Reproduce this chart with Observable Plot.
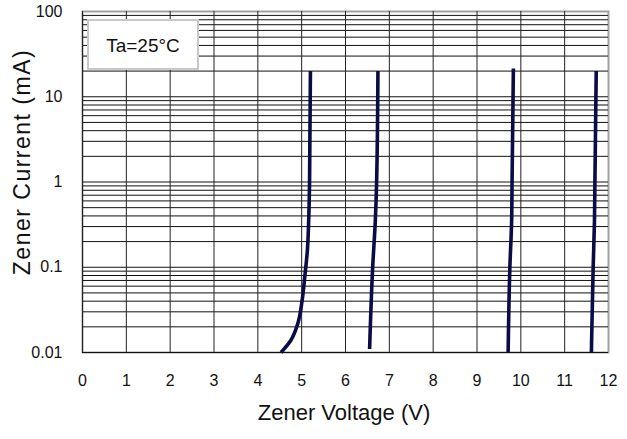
<!DOCTYPE html>
<html>
<head>
<meta charset="utf-8">
<script src="https://cdn.jsdelivr.net/npm/d3@7"></script>
<script src="https://cdn.jsdelivr.net/npm/@observablehq/plot@0.6"></script>
<style>
  html, body { margin: 0; padding: 0; background: #fff; }
  #wrap { position: relative; width: 627px; height: 439px; }
  #note {
    position: absolute; left: 87px; top: 19px; width: 108px; height: 44px;
    border: 2px solid #c8c8c8; background: #fff;
    font-family: Arial, "Liberation Sans", sans-serif; font-size: 19px; color: #111;
    display: flex; align-items: center; justify-content: center; padding-top: 3px; box-sizing: content-box;
  }
</style>
</head>
<body>
<div id="wrap"></div>
<script>
// ---- data ----
const voltageTicks = [0, 1, 2, 3, 4, 5, 6, 7, 8, 9, 10, 11, 12];
const currentTicks = [0.01, 0.1, 1, 10, 100];
const currentTickLabels = ["0.01", "0.1", "1", "10", "100"];

const curveA_V = [4.53, 4.75, 4.91, 5.01, 5.07, 5.13, 5.16, 5.18, 5.20];
const curveA_I = [0.01, 0.0138, 0.0217, 0.0407, 0.0764, 0.157, 0.35, 1, 20];

const curveB_V = [6.55, 6.62, 6.68, 6.71, 6.74];
const curveB_I = [0.011, 0.1, 0.35, 1, 20];

const curveC_V = [9.71, 9.75, 9.79, 9.80, 9.83];
const curveC_I = [0.01, 0.1, 0.35, 1, 21.4];

const curveD_V = [11.61, 11.65, 11.68, 11.69, 11.72];
const curveD_I = [0.01, 0.1, 0.35, 1, 20];

const noteText = "Ta=25°C";
const xTitle = "Zener Voltage (V)";
const yTitle = "Zener Current (mA)";

// ---- build ----
const curves = [
  [curveA_V, curveA_I], [curveB_V, curveB_I], [curveC_V, curveC_I], [curveD_V, curveD_I]
].map(([vs, is], k) => vs.map((v, j) => ({v, i: is[j], k})));
const curveData = curves.flat();

const yGrid = d3.scaleLog().domain([0.01, 100]).ticks().filter(d => d < 100);
const xGrid = voltageTicks.filter(d => d < 12);
const labelOf = new Map(currentTicks.map((d, j) => [d, currentTickLabels[j]]));

const chart = Plot.plot({
  width: 627,
  height: 439,
  marginLeft: 82,
  marginRight: 19,
  marginTop: 11,
  marginBottom: 87,
  style: {fontFamily: "Arial, 'Liberation Sans', sans-serif", fontSize: "16px", color: "#111", background: "#fff"},
  x: {domain: [0, 12]},
  y: {type: "log", domain: [0.01, 100]},
  marks: [
    Plot.frame({stroke: "#a0a0a0", strokeWidth: 2}),
    Plot.ruleY(yGrid, {stroke: "#111", strokeWidth: 1}),
    Plot.ruleX(xGrid, {stroke: "#222", strokeWidth: 1}),
    Plot.axisX({ticks: voltageTicks, tickSize: 0, tickPadding: 22, label: null, tickFormat: d => String(d)}),
    Plot.axisY({ticks: currentTicks, tickSize: 0, tickPadding: 20, label: null, tickFormat: d => labelOf.get(d)}),
    Plot.line(curveData, {x: "v", y: "i", z: "k", stroke: "#0b0b45", strokeWidth: 3.6, curve: "monotone-y", strokeLinecap: "butt"}),
    Plot.text([xTitle], {text: d => d, frameAnchor: "bottom", dy: 67, dx: -1.5, fontSize: 22}),
    Plot.text([yTitle], {text: d => d, frameAnchor: "left", textAnchor: "middle", lineAnchor: "middle", rotate: -90, dx: -60, dy: -20, fontSize: 23})
  ]
});

d3.select(chart).selectAll("text").filter(function() { return this.textContent === yTitle; })
  .style("letter-spacing", "1.5px");

const wrap = document.getElementById("wrap");
wrap.appendChild(chart);
const note = document.createElement("div");
note.id = "note";
note.textContent = noteText;
wrap.appendChild(note);
</script>
</body>
</html>
